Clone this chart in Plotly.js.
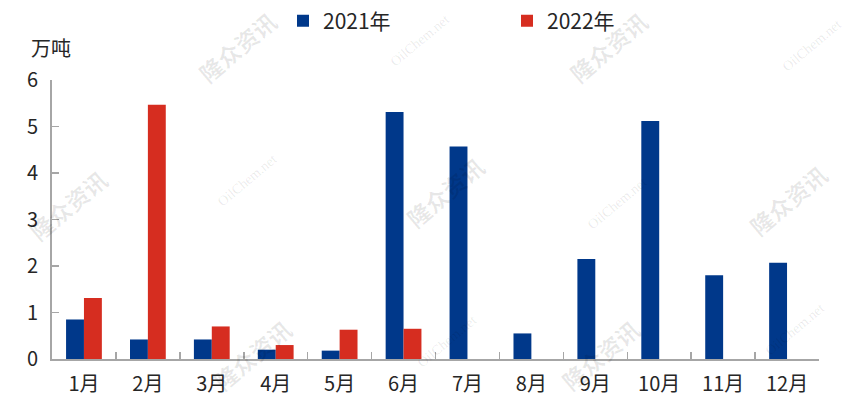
<!DOCTYPE html>
<html>
<head>
<meta charset="utf-8">
<script src="https://cdn.plot.ly/plotly-3.0.1.min.js"></script>
<style>html,body{margin:0;padding:0;background:#fff;}#chart{width:847px;height:404px;}</style>
</head>
<body>
<div id="chart"></div>
<script>
const months = ["1月","2月","3月","4月","5月","6月","7月","8月","9月","10月","11月","12月"];
const series2021Name = "2021年";
const series2022Name = "2022年";
const values2021 = [0.85, 0.42, 0.42, 0.20, 0.18, 5.31, 4.57, 0.55, 2.15, 5.12, 1.80, 2.07];
const values2022 = [1.31, 5.47, 0.70, 0.30, 0.63, 0.65, null, null, null, null, null, null];
const yTitle = "万吨";
const yTicks = [0, 1, 2, 3, 4, 5, 6];

const font = "'Noto Sans CJK SC', 'Noto Sans', sans-serif";
const W = 847, H = 404, L = 52, R = 28, T = 79.5, B = 44.5;
const pw = W - L - R, ph = H - T - B;
const px = x => (x - L) / pw;
const py = y => (H - B - y) / ph;

const traces = [
  {type: "bar", name: series2021Name, x: months, y: values2021, marker: {color: "#00388A"}},
  {type: "bar", name: series2022Name, x: months, y: values2022, marker: {color: "#D62D20"}}
];

// watermarks
const wmBrand = [[237,46],[608,46],[68,205],[445,192],[788,200],[252,355],[600,355]];
const wmSite = [[420,40],[812,45],[247,180],[617,203],[447,342],[795,330]];
const annotations = [
  {text: yTitle, xref: "paper", yref: "paper", x: px(29), y: py(47), xanchor: "left", yanchor: "middle",
   showarrow: false, font: {family: font, size: 20, color: "#262626"}}
];
wmBrand.forEach(p => annotations.push({text: "<b>隆众资讯</b>", xref: "paper", yref: "paper", x: px(p[0]), y: py(p[1]),
  xanchor: "center", yanchor: "middle",
  showarrow: false, textangle: -40, font: {family: font, size: 23, color: "rgba(0,0,0,0.09)"}}));
wmSite.forEach(p => annotations.push({text: "OilChem.net", xref: "paper", yref: "paper", x: px(p[0]), y: py(p[1]),
  xanchor: "center", yanchor: "middle",
  showarrow: false, textangle: -40, font: {family: "'Liberation Serif', serif", size: 14, color: "rgba(0,0,0,0.09)"}}));

const layout = {
  width: W, height: H,
  margin: {l: L, r: R, t: T, b: B, pad: 0, autoexpand: false},
  paper_bgcolor: "#fff", plot_bgcolor: "#fff",
  barmode: "group", bargap: 0.44, bargroupgap: 0,
  font: {family: font, size: 20, color: "#262626"},
  showlegend: true,
  legend: {orientation: "h", xref: "container", x: 283 / W, xanchor: "left", yref: "container", y: 1 - 21 / H, yanchor: "middle",
           entrywidth: 179, entrywidthmode: "pixels", font: {family: font, size: 21, color: "#262626"},
           bgcolor: "rgba(0,0,0,0)"},
  xaxis: {type: "category", showgrid: false, zeroline: false, showline: true, linecolor: "#A6A6A6", linewidth: 2,
          ticks: "inside", tickson: "boundaries", ticklen: 7, tickcolor: "#A6A6A6", tickwidth: 1.5,
          ticklabelstandoff: 6,
          tickfont: {family: font, size: 20, color: "#262626"}, fixedrange: true},
  yaxis: {range: [0, 6], tickvals: yTicks, showgrid: false, zeroline: false, showline: true, linecolor: "#A6A6A6",
          linewidth: 2, ticks: "inside", ticklen: 7, tickcolor: "#A6A6A6", tickwidth: 1.5,
          ticklabelstandoff: 8,
          tickfont: {family: font, size: 20, color: "#262626"}, fixedrange: true},
  annotations: annotations
};
Plotly.newPlot("chart", traces, layout, {displayModeBar: false, staticPlot: true});
</script>
</body>
</html>
